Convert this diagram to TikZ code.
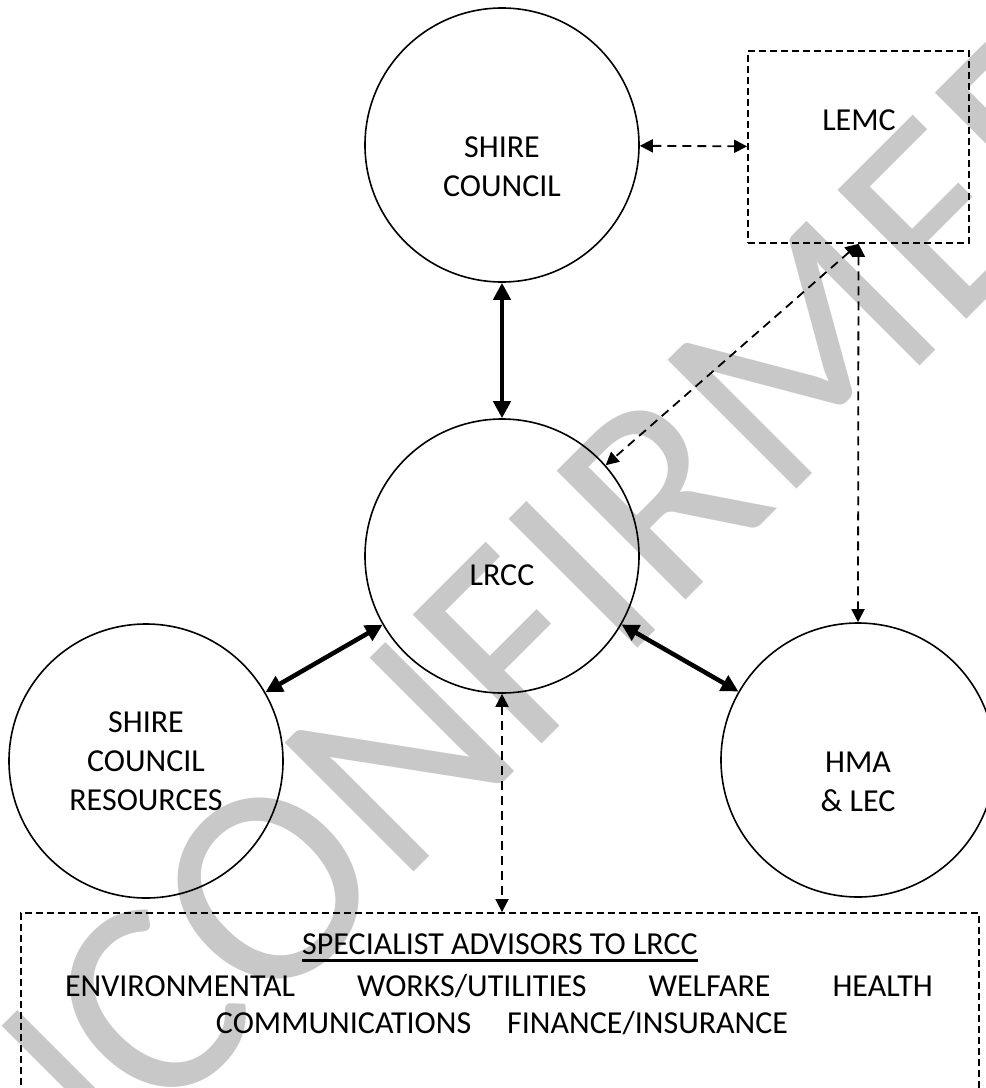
\documentclass[tikz,border=0pt]{standalone}
\usepackage{fontspec}
\setmainfont{Carlito}
\usetikzlibrary{arrows.meta}
\definecolor{wmgray}{RGB}{200,200,200}
\begin{document}
\begin{tikzpicture}[x=1pt,y=-1pt,
  circ/.style={circle,draw,line width=1.6pt,minimum size=274pt,inner sep=0pt},
  dbox/.style={draw,line width=1.8pt,dash pattern=on 7pt off 4pt,inner sep=0pt},
  lbl/.style={font=\fontsize{32}{39}\selectfont,align=center,inner sep=0pt},
  thickarr/.style={line width=4.5pt,{Triangle[length=17pt,width=17pt]}-{Triangle[length=17pt,width=17pt]}},
  dasharr/.style={line width=1.8pt,dash pattern=on 9pt off 6pt,{Triangle[length=13pt,width=13pt]}-{Triangle[length=13pt,width=13pt]}},
  wmark/.style={text=wmgray,font=\fontsize{284}{284}\selectfont,inner sep=0pt}
]
\useasboundingbox (0,0) rectangle (986,1088);
\clip (0,0) rectangle (986,1088);
\fill[white] (0,0) rectangle (986,1088);
% watermark
\node[wmark,anchor=base west,rotate=45] (wm) at (-98,1384) {UNCONFIRMED};
% shapes
\node[circ] (sc) at (502,145) {};
\node[circ] (lrcc) at (502,556) {};
\node[circ] (scr) at (146,761) {};
\node[circ] (hma) at (858,760) {};
\node[dbox,minimum width=221pt,minimum height=192pt] (lemc) at (858.5,147) {};
\node[dbox,minimum width=958pt,minimum height=240pt] (spec) at (500,1033) {};
% labels
\node[lbl] (scT) at (502,166.7) {SHIRE\\COUNCIL};
\node[lbl] (lrccT) at (502,575.7) {LRCC};
\node[lbl] (scrT) at (146,761.7) {SHIRE\\COUNCIL\\RESOURCES};
\node[lbl] (hmaT) at (858,781.7) {HMA\\\& LEC};
\node[lbl] (lemcT) at (859,120.7) {LEMC};
\node[lbl,anchor=base] (specT) at (500,954) {SPECIALIST ADVISORS TO LRCC};
\draw[line width=2.5pt] ([yshift=-6.5pt]specT.base west) -- ([yshift=-6.5pt]specT.base east);
\node[lbl,anchor=base] (line1) at (499,996) {\makebox[868pt]{ENVIRONMENTAL\hfill WORKS/UTILITIES\hfill WELFARE\hfill HEALTH}};
\node[lbl,anchor=base] (line2) at (502,1033) {COMMUNICATIONS\hspace{36pt}FINANCE/INSURANCE};
% connectors
\draw[thickarr] (sc) -- (lrcc);
\draw[thickarr] (lrcc) -- (scr);
\draw[thickarr] (lrcc) -- (hma);
\draw[dasharr] (sc) -- (lemc);
\draw[dasharr] (lemc.south) -- (lrcc);
\draw[dasharr] (lemc.south) -- (hma.north);
\draw[dasharr] (lrcc.south) -- (lrcc.south |- spec.north);
\end{tikzpicture}
\end{document}
